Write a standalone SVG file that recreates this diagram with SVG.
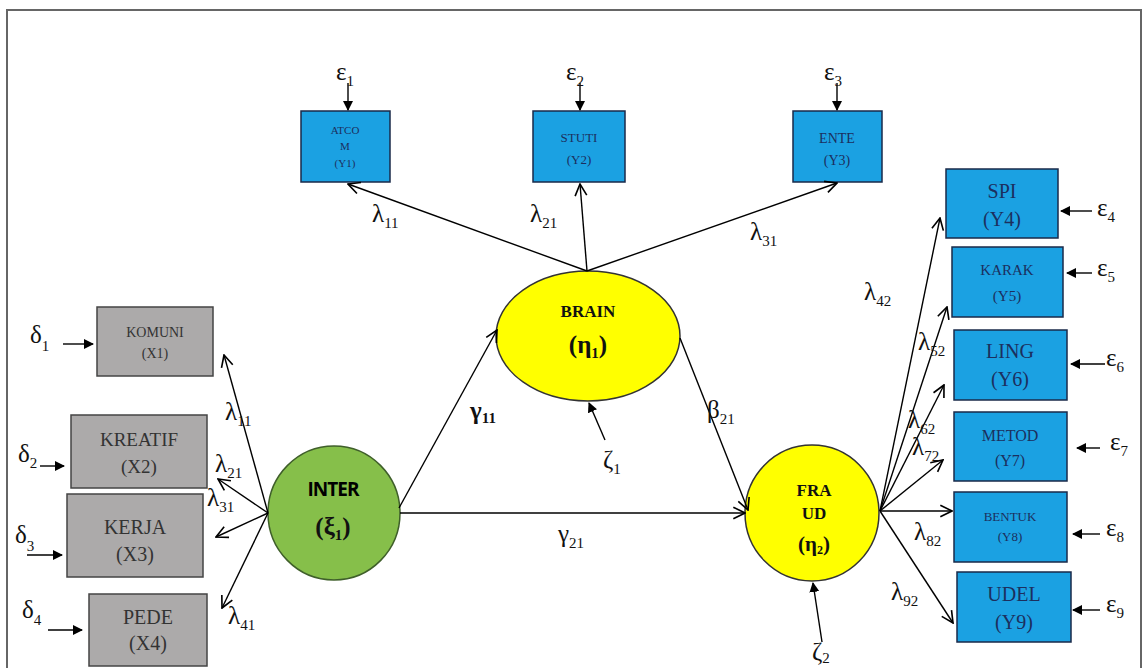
<svg xmlns="http://www.w3.org/2000/svg" width="1143" height="668" viewBox="0 0 1143 668">
<defs>
<marker id="open" markerUnits="userSpaceOnUse" markerWidth="14" markerHeight="14" viewBox="0 0 12 12" refX="11" refY="6" orient="auto">
<path d="M1,1 L11,6 L1,11" fill="none" stroke="#000" stroke-width="1.4"/>
</marker>
<marker id="solid" markerUnits="userSpaceOnUse" markerWidth="10" markerHeight="10" viewBox="0 0 10 10" refX="9" refY="5" orient="auto">
<path d="M0,0 L10,5 L0,10 z" fill="#000"/>
</marker>
<style>
.gbox{fill:#acaaaa;stroke:#444;stroke-width:1.5}
.bbox{fill:#1ba1e2;stroke:#1a2a4a;stroke-width:1.5}
.gt{font-family:"Liberation Serif",serif;fill:#333;text-anchor:middle}
.bt{font-family:"Liberation Serif",serif;fill:#1c2f5e;text-anchor:middle}
.lbl{font-family:"Liberation Serif",serif;fill:#111;font-size:25px}
.sub{font-size:15px}
.ln{stroke:#000;stroke-width:1.4;fill:none}
.path{marker-end:url(#open)}
.err{marker-end:url(#solid)}
.lat{font-family:"Liberation Serif",serif;font-weight:bold;fill:#111;text-anchor:middle}
</style>
</defs>
<rect x="7" y="10" width="1134" height="670" fill="#fff" stroke="#666" stroke-width="2"/>

<g id="komuni"><rect class="gbox" x="97" y="307" width="116" height="69"/>
<text class="gt" x="155" y="337" font-size="14">KOMUNI</text><text class="gt" x="155" y="358" font-size="14">(X1)</text></g>
<g id="kreatif"><rect class="gbox" x="71" y="415" width="136" height="73"/>
<text class="gt" x="139" y="446" font-size="19">KREATIF</text><text class="gt" x="139" y="473" font-size="19">(X2)</text></g>
<g id="kerja"><rect class="gbox" x="67" y="494" width="136" height="83"/>
<text class="gt" x="135" y="534" font-size="20">KERJA</text><text class="gt" x="135" y="561" font-size="20">(X3)</text></g>
<g id="pede"><rect class="gbox" x="89" y="594" width="118" height="72"/>
<text class="gt" x="148" y="624" font-size="20">PEDE</text><text class="gt" x="148" y="650" font-size="20">(X4)</text></g>

<g id="atcom"><rect class="bbox" x="301" y="111" width="89" height="71"/>
<text class="bt" x="345" y="134" font-size="11">ATCO</text><text class="bt" x="345" y="150" font-size="11">M</text><text class="bt" x="345" y="167" font-size="11">(Y1)</text></g>
<g id="stuti"><rect class="bbox" x="533" y="111" width="92" height="71"/>
<text class="bt" x="579" y="142" font-size="13">STUTI</text><text class="bt" x="579" y="164" font-size="13">(Y2)</text></g>
<g id="ente"><rect class="bbox" x="793" y="111" width="89" height="71"/>
<text class="bt" x="837" y="143" font-size="14">ENTE</text><text class="bt" x="837" y="165" font-size="14">(Y3)</text></g>

<g id="spi"><rect class="bbox" x="946" y="169" width="112" height="69"/>
<text class="bt" x="1002" y="198" font-size="20">SPI</text><text class="bt" x="1002" y="226" font-size="20">(Y4)</text></g>
<g id="karak"><rect class="bbox" x="952" y="247" width="111" height="70"/>
<text class="bt" x="1007" y="275" font-size="15">KARAK</text><text class="bt" x="1007" y="301" font-size="15">(Y5)</text></g>
<g id="ling"><rect class="bbox" x="954" y="330" width="113" height="70"/>
<text class="bt" x="1010" y="358" font-size="20">LING</text><text class="bt" x="1010" y="386" font-size="20">(Y6)</text></g>
<g id="metod"><rect class="bbox" x="954" y="412" width="113" height="69"/>
<text class="bt" x="1010" y="441" font-size="16">METOD</text><text class="bt" x="1010" y="466" font-size="16">(Y7)</text></g>
<g id="bentuk"><rect class="bbox" x="954" y="492" width="113" height="70"/>
<text class="bt" x="1010" y="521" font-size="13">BENTUK</text><text class="bt" x="1010" y="541" font-size="13">(Y8)</text></g>
<g id="udel"><rect class="bbox" x="957" y="572" width="114" height="70"/>
<text class="bt" x="1014" y="601" font-size="20">UDEL</text><text class="bt" x="1014" y="629" font-size="20">(Y9)</text></g>

<g id="inter"><ellipse cx="334" cy="513" rx="66" ry="67" fill="#86bf4a" stroke="#3f5f2a" stroke-width="1.5"/>
<text x="333" y="496" text-anchor="middle" font-family="'Open Sans',sans-serif" font-weight="bold" font-size="19" fill="#000" letter-spacing="-1">INTER</text>
<text class="lat" x="333" y="535" font-size="25">(ξ<tspan font-size="15" dy="5">1</tspan><tspan dy="-5">)</tspan></text></g>
<g id="brain"><ellipse cx="588" cy="336" rx="92" ry="65" fill="#ffff00" stroke="#333" stroke-width="1.5"/>
<text class="lat" x="588" y="317" font-size="17">BRAIN</text>
<text class="lat" x="588" y="353" font-size="25">(η<tspan font-size="15" dy="5">1</tspan><tspan dy="-5">)</tspan></text></g>
<g id="fraud"><ellipse cx="812" cy="513" rx="67" ry="68" fill="#ffff00" stroke="#333" stroke-width="1.5"/>
<text class="lat" x="814" y="496" font-size="17">FRA</text>
<text class="lat" x="814" y="519" font-size="17">UD</text>
<text class="lat" x="814" y="551" font-size="21">(η<tspan font-size="12" dy="3">2</tspan><tspan dy="-3">)</tspan></text></g>

<g id="connectors">
<line class="ln path" x1="268" y1="513" x2="224" y2="355"/>
<line class="ln path" x1="268" y1="513" x2="218" y2="479"/>
<line class="ln path" x1="268" y1="513" x2="216" y2="537"/>
<line class="ln path" x1="268" y1="513" x2="222" y2="608"/>
<line class="ln path" x1="587" y1="271" x2="348" y2="184"/>
<line class="ln path" x1="587" y1="271" x2="580" y2="184"/>
<line class="ln path" x1="587" y1="271" x2="837" y2="183"/>
<line class="ln path" x1="399" y1="508" x2="497" y2="330"/>
<line class="ln path" x1="680" y1="338" x2="748" y2="510"/>
<line class="ln path" x1="400" y1="513" x2="745" y2="513"/>
<line class="ln path" x1="880" y1="511" x2="940" y2="218"/>
<line class="ln path" x1="880" y1="511" x2="947" y2="307"/>
<line class="ln path" x1="880" y1="511" x2="944" y2="385"/>
<line class="ln path" x1="880" y1="511" x2="943" y2="460"/>
<line class="ln path" x1="880" y1="511" x2="952" y2="511"/>
<line class="ln path" x1="880" y1="511" x2="953" y2="623"/>
<line class="ln err" x1="63" y1="344" x2="93" y2="344"/>
<line class="ln err" x1="40" y1="466" x2="64" y2="466"/>
<line class="ln err" x1="27" y1="555" x2="62" y2="555"/>
<line class="ln err" x1="48" y1="630" x2="82" y2="630"/>
<line class="ln err" x1="348" y1="83" x2="348" y2="110"/>
<line class="ln err" x1="580" y1="83" x2="580" y2="110"/>
<line class="ln err" x1="837" y1="83" x2="837" y2="110"/>
<line class="ln err" x1="1092" y1="211" x2="1061" y2="211"/>
<line class="ln err" x1="1092" y1="273" x2="1067" y2="273"/>
<line class="ln err" x1="1105" y1="364" x2="1071" y2="364"/>
<line class="ln err" x1="1100" y1="448" x2="1077" y2="448"/>
<line class="ln err" x1="1100" y1="534" x2="1073" y2="534"/>
<line class="ln err" x1="1100" y1="610" x2="1073" y2="610"/>
<line class="ln err" x1="605" y1="440" x2="589" y2="403"/>
<line class="ln err" x1="822" y1="642" x2="813" y2="583"/>
</g>

<g id="labels">
<text class="lbl" x="30" y="343" font-size="26">δ<tspan class="sub" dy="8">1</tspan></text>
<text class="lbl" x="18" y="462" font-size="26">δ<tspan class="sub" dy="6">2</tspan></text>
<text class="lbl" x="15" y="543" font-size="26">δ<tspan class="sub" dy="8">3</tspan></text>
<text class="lbl" x="22" y="618" font-size="26">δ<tspan class="sub" dy="7">4</tspan></text>
<text class="lbl" x="225" y="420">λ<tspan class="sub" dy="6">11</tspan></text>
<text class="lbl" x="215" y="472">λ<tspan class="sub" dy="6">21</tspan></text>
<text class="lbl" x="207" y="506">λ<tspan class="sub" dy="6">31</tspan></text>
<text class="lbl" x="228" y="624">λ<tspan class="sub" dy="6">41</tspan></text>
<text class="lbl" x="336" y="80">ε<tspan class="sub" dy="6">1</tspan></text>
<text class="lbl" x="566" y="80">ε<tspan class="sub" dy="6">2</tspan></text>
<text class="lbl" x="824" y="80">ε<tspan class="sub" dy="6">3</tspan></text>
<text class="lbl" x="372" y="222">λ<tspan class="sub" dy="6">11</tspan></text>
<text class="lbl" x="530" y="222">λ<tspan class="sub" dy="6">21</tspan></text>
<text class="lbl" x="750" y="240">λ<tspan class="sub" dy="6">31</tspan></text>
<text class="lbl" x="470" y="419" font-weight="bold">γ<tspan class="sub" dy="4">11</tspan></text>
<text class="lbl" x="707" y="418">β<tspan class="sub" dy="6">21</tspan></text>
<text class="lbl" x="558" y="542">γ<tspan class="sub" dy="6">21</tspan></text>
<text class="lbl" x="603" y="468" font-size="28">ζ<tspan class="sub" dy="6">1</tspan></text>
<text class="lbl" x="812" y="660" font-size="26">ζ<tspan class="sub" dy="3">2</tspan></text>
<text class="lbl" x="864" y="300">λ<tspan class="sub" dy="6">42</tspan></text>
<text class="lbl" x="918" y="350">λ<tspan class="sub" dy="6">52</tspan></text>
<text class="lbl" x="908" y="428">λ<tspan class="sub" dy="6">62</tspan></text>
<text class="lbl" x="912" y="455">λ<tspan class="sub" dy="6">72</tspan></text>
<text class="lbl" x="914" y="540">λ<tspan class="sub" dy="6">82</tspan></text>
<text class="lbl" x="891" y="600">λ<tspan class="sub" dy="6">92</tspan></text>
<text class="lbl" x="1097" y="216">ε<tspan class="sub" dy="6">4</tspan></text>
<text class="lbl" x="1097" y="276">ε<tspan class="sub" dy="6">5</tspan></text>
<text class="lbl" x="1106" y="366">ε<tspan class="sub" dy="6">6</tspan></text>
<text class="lbl" x="1110" y="450">ε<tspan class="sub" dy="6">7</tspan></text>
<text class="lbl" x="1106" y="536">ε<tspan class="sub" dy="6">8</tspan></text>
<text class="lbl" x="1106" y="612">ε<tspan class="sub" dy="6">9</tspan></text>
</g>
</svg>
